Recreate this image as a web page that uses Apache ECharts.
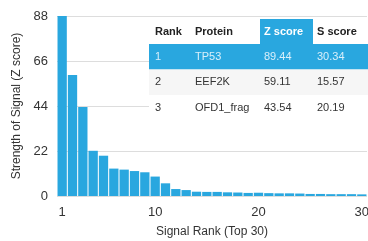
<!DOCTYPE html>
<html lang="en">
<head>
	<meta charset="UTF-8">
	<title>Signal Rank</title>
	<script type="text/javascript" src="https://cdn.jsdelivr.net/npm/echarts@6/dist/echarts.min.js"></script>
	<style>
		html,body{margin:0;padding:0;background:#fff;}
		#main{width:368px;height:241px;}
	</style>
</head>
<body>
	<div id="main"></div>
	<script type="text/javascript">
	// data
	var ranks = [];
	for (var i = 1; i <= 30; i++) { ranks.push(String(i)); }
	var zScores = [89.44, 59.11, 43.54, 22.1, 19.7, 13.4, 12.9, 12.2, 11.6, 9.5,
		6.2, 3.4, 2.9, 2.1, 2.0, 2.0, 1.8, 1.7, 1.5, 1.6,
		1.4, 1.3, 1.3, 1.2, 1.0, 1.0, 0.9, 0.9, 0.9, 0.8];
	var yTicks = [0, 22, 44, 66, 88];
	var xTickLabels = ['1', '10', '20', '30'];

	var tableHead = ['Rank', 'Protein', 'Z score', 'S score'];
	var tableRows = [
		['1', 'TP53', '89.44', '30.34'],
		['2', 'EEF2K', '59.11', '15.57'],
		['3', 'OFD1_frag', '43.54', '20.19']
	];

	var blue = '#29a7df';
	var myChart = echarts.init(document.getElementById('main'));

	// table drawn as graphic elements, on top of the grid
	var tLeft = 149, tTop = 19, headH = 25, rowH = 25.5, tWidth = 219;
	var colX = [6, 46, 115, 168];   // text offset per column
	var zCol = [111, 164];          // highlighted column span
	var els = [];
	var tHeight = headH + rowH * tableRows.length;
	els.push({type: 'rect', z: 100, shape: {x: tLeft, y: tTop, width: tWidth, height: tHeight}, style: {fill: '#fff'}});
	els.push({type: 'rect', z: 101, shape: {x: tLeft + zCol[0], y: tTop, width: zCol[1] - zCol[0], height: headH}, style: {fill: blue}});
	tableHead.forEach(function (h, c) {
		els.push({type: 'text', z: 102, x: tLeft + colX[c], y: tTop + headH / 2,
			style: {text: h, fill: c == 2 ? '#fff' : '#222', font: 'bold 11px "Liberation Sans", Arial', textVerticalAlign: 'middle'}});
	});
	tableRows.forEach(function (row, r) {
		var y0 = tTop + headH + r * rowH;
		var bg = r == 0 ? blue : (r == 1 ? '#f6f6f6' : '#fff');
		els.push({type: 'rect', z: 101, shape: {x: tLeft, y: y0, width: tWidth, height: rowH}, style: {fill: bg}});
		row.forEach(function (v, c) {
			els.push({type: 'text', z: 102, x: tLeft + colX[c], y: y0 + rowH / 2,
				style: {text: v, fill: r == 0 ? '#d8effa' : '#333', font: '11px "Liberation Sans", Arial', textVerticalAlign: 'middle'}});
		});
	});

	var option = {
		animation: false,
		grid: {left: 57, right: 1, top: 16, bottom: 45, containLabel: false, outerBoundsMode: 'none'},
		xAxis: {
			type: 'category',
			data: ranks,
			name: 'Signal Rank (Top 30)',
			nameLocation: 'middle',
			nameGap: 30,
			nameTextStyle: {fontSize: 12, color: '#333', fontFamily: 'Liberation Sans'},
			axisLine: {show: false},
			axisTick: {show: false},
			axisLabel: {
				fontSize: 13, color: '#333', fontFamily: 'Liberation Sans', margin: 10,
				interval: function (idx, val) { return xTickLabels.indexOf(val) >= 0; }
			}
		},
		yAxis: {
			type: 'value',
			min: 0, max: 88, interval: 22,
			name: 'Strength of Signal (Z score)',
			nameLocation: 'middle',
			nameGap: 34,
			nameTextStyle: {fontSize: 12, color: '#333', fontFamily: 'Liberation Sans'},
			axisLine: {show: false},
			axisTick: {show: false},
			axisLabel: {fontSize: 13, color: '#333', fontFamily: 'Liberation Sans', margin: 9,
				formatter: function (v) { return yTicks.indexOf(v) >= 0 ? v : ''; }},
			splitLine: {lineStyle: {color: '#ddd'}}
		},
		series: [{
			type: 'bar',
			data: zScores,
			barCategoryGap: '10%',
			itemStyle: {color: blue}
		}],
		graphic: els
	};
	myChart.setOption(option);
	</script>
</body>
</html>
